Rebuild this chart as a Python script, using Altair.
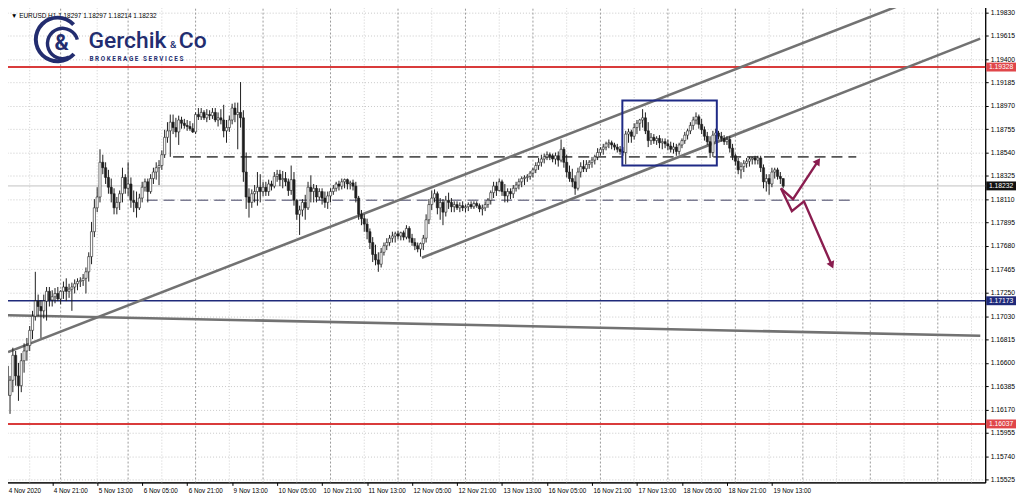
import json
import altair as alt
import pandas as pd

# ---------------- data ----------------
first_open = 1.1657
closes = [
1.1630,1.1644,1.1667,1.1648,1.1639,1.1662,1.1671,1.1676,1.1690,1.1703,
1.1717,1.1712,1.1708,1.1717,1.1726,1.1718,1.1721,1.1724,1.1719,1.1726,
1.1730,1.1726,1.1728,1.1730,1.1733,1.1735,1.1736,1.1738,1.1744,1.1758,
1.1781,1.1803,1.1813,1.1845,1.1840,1.1831,1.1822,1.1816,1.1803,1.1808,
1.1816,1.1831,1.1821,1.1825,1.1810,1.1808,1.1803,1.1812,1.1822,1.1827,
1.1818,1.1830,1.1836,1.1840,1.1842,1.1852,1.1868,1.1874,1.1882,1.1877,
1.1873,1.1884,1.1881,1.1879,1.1878,1.1876,1.1873,1.1889,1.1887,1.1891,
1.1886,1.1889,1.1888,1.1891,1.1884,1.1886,1.1884,1.1874,1.1877,1.1884,
1.1895,1.1889,1.1891,1.1886,1.1836,1.1813,1.1808,1.1816,1.1818,1.1822,
1.1818,1.1822,1.1818,1.1825,1.1823,1.1832,1.1834,1.1829,1.1830,1.1827,
1.1819,1.1829,1.1810,1.1797,1.1801,1.1808,1.1803,1.1822,1.1818,1.1821,
1.1813,1.1818,1.1812,1.1808,1.1814,1.1818,1.1821,1.1825,1.1823,1.1827,
1.1829,1.1825,1.1826,1.1823,1.1812,1.1797,1.1793,1.1788,1.1781,1.1771,
1.1760,1.1755,1.1751,1.1762,1.1768,1.1771,1.1775,1.1777,1.1779,1.1777,
1.1780,1.1776,1.1784,1.1775,1.1771,1.1768,1.1765,1.1770,1.1775,1.1792,
1.1806,1.1812,1.1816,1.1803,1.1808,1.1799,1.1810,1.1808,1.1804,1.1806,
1.1803,1.1805,1.1803,1.1804,1.1806,1.1804,1.1807,1.1805,1.1802,1.1803,
1.1806,1.1810,1.1817,1.1823,1.1819,1.1827,1.1818,1.1814,1.1818,1.1816,
1.1821,1.1824,1.1827,1.1830,1.1831,1.1832,1.1835,1.1838,1.1842,1.1845,
1.1848,1.1850,1.1852,1.1851,1.1848,1.1851,1.1847,1.1857,1.1845,1.1836,
1.1830,1.1827,1.1821,1.1836,1.1841,1.1839,1.1843,1.1845,1.1847,1.1850,
1.1854,1.1857,1.1859,1.1862,1.1863,1.1861,1.1859,1.1857,1.1855,1.1854,
1.1871,1.1873,1.1869,1.1877,1.1881,1.1884,1.1886,1.1874,1.1865,1.1868,
1.1865,1.1867,1.1863,1.1864,1.1862,1.1860,1.1857,1.1859,1.1855,1.1861,
1.1865,1.1870,1.1874,1.1879,1.1884,1.1887,1.1880,1.1875,1.1869,1.1864,
1.1854,1.1870,1.1872,1.1869,1.1867,1.1864,1.1866,1.1858,1.1851,1.1846,
1.1838,1.1841,1.1844,1.1846,1.1848,1.1849,1.1847,1.1849,1.1840,1.1827,
1.1830,1.1825,1.1836,1.1838,1.1832,1.1830,1.1823]
highs = [
1.1667,1.1648,1.1674,1.1671,1.1660,1.1669,1.1678,1.1683,1.1694,1.1708,
1.1744,1.1723,1.1718,1.1723,1.1730,1.1730,1.1727,1.1729,1.1730,1.1727,
1.1735,1.1738,1.1733,1.1734,1.1737,1.1738,1.1739,1.1742,1.1748,1.1762,
1.1790,1.1811,1.1822,1.1857,1.1852,1.1845,1.1838,1.1830,1.1821,1.1813,
1.1819,1.1840,1.1834,1.1845,1.1831,1.1819,1.1818,1.1816,1.1827,1.1830,
1.1830,1.1834,1.1840,1.1845,1.1847,1.1856,1.1875,1.1882,1.1889,1.1889,
1.1886,1.1888,1.1887,1.1885,1.1884,1.1883,1.1881,1.1891,1.1895,1.1895,
1.1893,1.1894,1.1893,1.1895,1.1895,1.1891,1.1894,1.1898,1.1884,1.1888,
1.1899,1.1900,1.1900,1.1919,1.1893,1.1854,1.1821,1.1820,1.1824,1.1836,
1.1834,1.1827,1.1827,1.1829,1.1828,1.1836,1.1838,1.1838,1.1837,1.1836,
1.1830,1.1842,1.1836,1.1811,1.1805,1.1811,1.1815,1.1827,1.1833,1.1825,
1.1824,1.1821,1.1821,1.1818,1.1818,1.1821,1.1824,1.1827,1.1828,1.1830,
1.1830,1.1830,1.1828,1.1829,1.1827,1.1814,1.1801,1.1797,1.1793,1.1784,
1.1776,1.1769,1.1762,1.1766,1.1771,1.1775,1.1778,1.1781,1.1781,1.1782,
1.1781,1.1782,1.1787,1.1786,1.1779,1.1775,1.1771,1.1771,1.1778,1.1797,
1.1811,1.1819,1.1820,1.1818,1.1812,1.1811,1.1814,1.1817,1.1812,1.1809,
1.1809,1.1808,1.1809,1.1806,1.1808,1.1809,1.1809,1.1809,1.1807,1.1806,
1.1809,1.1812,1.1819,1.1827,1.1827,1.1830,1.1829,1.1825,1.1821,1.1821,
1.1824,1.1827,1.1830,1.1832,1.1833,1.1834,1.1837,1.1840,1.1845,1.1849,
1.1852,1.1853,1.1855,1.1854,1.1853,1.1854,1.1855,1.1866,1.1859,1.1852,
1.1842,1.1839,1.1833,1.1840,1.1845,1.1847,1.1847,1.1847,1.1850,1.1852,
1.1858,1.1859,1.1862,1.1864,1.1866,1.1865,1.1863,1.1862,1.1860,1.1859,
1.1874,1.1876,1.1875,1.1881,1.1884,1.1885,1.1894,1.1891,1.1882,1.1872,
1.1871,1.1869,1.1870,1.1867,1.1867,1.1866,1.1864,1.1863,1.1862,1.1863,
1.1867,1.1873,1.1876,1.1882,1.1887,1.1891,1.1889,1.1885,1.1878,1.1873,
1.1869,1.1874,1.1876,1.1874,1.1873,1.1870,1.1869,1.1869,1.1862,1.1853,
1.1849,1.1845,1.1847,1.1849,1.1850,1.1850,1.1851,1.1851,1.1851,1.1843,
1.1834,1.1834,1.1840,1.1840,1.1840,1.1836,1.1830]
lows = [
1.1621,1.1613,1.1633,1.1639,1.1625,1.1633,1.1651,1.1662,1.1671,1.1682,
1.1699,1.1703,1.1683,1.1701,1.1699,1.1712,1.1712,1.1715,1.1717,1.1714,
1.1719,1.1717,1.1720,1.1708,1.1724,1.1727,1.1730,1.1731,1.1724,1.1735,
1.1751,1.1776,1.1799,1.1808,1.1834,1.1825,1.1816,1.1808,1.1797,1.1797,
1.1801,1.1808,1.1816,1.1814,1.1803,1.1799,1.1794,1.1801,1.1808,1.1818,
1.1808,1.1816,1.1825,1.1829,1.1824,1.1838,1.1849,1.1863,1.1850,1.1871,
1.1868,1.1861,1.1876,1.1876,1.1874,1.1874,1.1872,1.1871,1.1884,1.1884,
1.1884,1.1882,1.1884,1.1885,1.1882,1.1878,1.1880,1.1868,1.1863,1.1873,
1.1880,1.1882,1.1857,1.1877,1.1827,1.1802,1.1794,1.1803,1.1808,1.1805,
1.1808,1.1814,1.1814,1.1814,1.1819,1.1821,1.1827,1.1823,1.1821,1.1823,
1.1814,1.1815,1.1805,1.1792,1.1778,1.1795,1.1792,1.1801,1.1808,1.1808,
1.1808,1.1810,1.1806,1.1803,1.1802,1.1808,1.1815,1.1818,1.1819,1.1820,
1.1821,1.1820,1.1820,1.1819,1.1808,1.1792,1.1787,1.1781,1.1774,1.1765,
1.1753,1.1750,1.1744,1.1748,1.1759,1.1764,1.1768,1.1771,1.1771,1.1774,
1.1773,1.1773,1.1774,1.1771,1.1768,1.1764,1.1762,1.1758,1.1764,1.1771,
1.1788,1.1801,1.1808,1.1797,1.1792,1.1787,1.1795,1.1802,1.1799,1.1799,
1.1801,1.1799,1.1800,1.1799,1.1800,1.1802,1.1802,1.1803,1.1799,1.1796,
1.1800,1.1803,1.1806,1.1812,1.1814,1.1818,1.1814,1.1808,1.1808,1.1811,
1.1812,1.1818,1.1820,1.1822,1.1824,1.1827,1.1829,1.1831,1.1835,1.1838,
1.1841,1.1844,1.1847,1.1847,1.1845,1.1843,1.1841,1.1845,1.1840,1.1831,
1.1827,1.1822,1.1815,1.1819,1.1831,1.1836,1.1836,1.1839,1.1840,1.1843,
1.1847,1.1851,1.1852,1.1856,1.1858,1.1857,1.1856,1.1854,1.1852,1.1851,
1.1843,1.1863,1.1863,1.1866,1.1871,1.1874,1.1877,1.1871,1.1859,1.1861,
1.1862,1.1861,1.1858,1.1857,1.1858,1.1856,1.1854,1.1853,1.1851,1.1852,
1.1858,1.1862,1.1866,1.1871,1.1875,1.1880,1.1876,1.1871,1.1865,1.1861,
1.1849,1.1850,1.1864,1.1866,1.1864,1.1861,1.1861,1.1854,1.1847,1.1842,
1.1834,1.1830,1.1836,1.1840,1.1841,1.1843,1.1843,1.1843,1.1836,1.1821,
1.1818,1.1815,1.1822,1.1830,1.1829,1.1825,1.1821]

x_labels = ["4 Nov 2020", "4 Nov 21:00", "5 Nov 13:00", "6 Nov 05:00", "6 Nov 21:00",
            "9 Nov 13:00", "10 Nov 05:00", "10 Nov 21:00", "11 Nov 13:00", "12 Nov 05:00",
            "12 Nov 21:00", "13 Nov 13:00", "16 Nov 05:00", "16 Nov 21:00", "17 Nov 13:00",
            "18 Nov 05:00", "18 Nov 21:00", "19 Nov 13:00"]
x_label_bars = [0, 16, 32, 48, 64, 80, 96, 112, 128, 144, 160, 176, 192, 208, 224, 240, 256, 272]
price_ticks = [1.19830, 1.19615, 1.19400, 1.19185, 1.18970, 1.18755, 1.18540, 1.18325,
               1.18110, 1.17895, 1.17680, 1.17465, 1.17250, 1.17030, 1.16815, 1.16600,
               1.16385, 1.16170, 1.15955, 1.15740, 1.15525]
day_sep_bars = [19, 43, 67, 91, 115, 139, 163, 187, 211, 235, 259, 283, 307, 331]
half_day_bars = [8, 32, 55, 79, 103, 127, 151, 175, 199, 223, 247, 271, 295, 319, 343]

red_levels = [1.19328, 1.16037]
blue_levels = [1.17173]
current_price = [1.18232]

trend_x1 = [0.28, 147.5, 0.28]
trend_y1 = [1.1670, 1.1757, 1.1704]
trend_x2 = [317.8, 346.1, 346.1]
trend_y2 = [1.1990, 1.1959, 1.1685]

dash_y = [1.1850, 1.1810]
dash_x1 = [59.0, 49.6]
dash_x2 = [302.0, 300.2]
dash_col = ["#555555", "#7c7c92"]

box_x = [218.8, 252.4]
box_y = [1.1842, 1.1902]

arrow_path = ["up", "up", "up", "down", "down", "down", "down"]
arrow_bar = [275.2, 279.5, 288.4, 275.2, 279.1, 283.4, 293.3]
arrow_price = [1.1821, 1.1811, 1.1846, 1.1821, 1.1800, 1.1809, 1.1750]
arrow_head_angle = [34, 156]

tag_prices = [1.19328, 1.18232, 1.17173, 1.16037]
tag_text = ["1.19328", "1.18232", "1.17173", "1.16037"]
tag_colors = ["#e0464a", "#111111", "#1f2a7a", "#e0464a"]

header = "\u25bc EURUSD,H1  1.18297 1.18297 1.18214 1.18232"
logo_sub_text = "\u00a0".join("BROKERAGE") + "\u00a0\u00a0\u00a0" + "\u00a0".join("SERVICES")

# ---------------- chart ----------------
W, H = 989, 481
XDOM = [0.28, 346.1]
YDOM = [1.15498, 1.19903]
NAVY = "#232d6f"
MAROON = "#8a1d4f"

xs = alt.Scale(domain=XDOM, nice=False, zero=False)
ys = alt.Scale(domain=YDOM, nice=False, zero=False)

lab_expr = json.dumps(x_labels) + "[indexof(" + json.dumps(x_label_bars) + ", datum.value)]"
AX = alt.Axis(
    values=x_label_bars, labelExpr=lab_expr, labelAlign="left", labelAngle=0,
    labelOffset=1, labelPadding=2, labelFontSize=6.4, labelFont="Liberation Sans",
    labelColor="#000", tickSize=3, tickColor="#000", domainColor="#000",
    labelOverlap=False, labelFlush=False, labelBound=False, grid=False, title=None)
AY = alt.Axis(
    orient="right", values=price_ticks, format=".5f", labelFontSize=6.8,
    labelFont="Liberation Sans", labelColor="#000", tickSize=3, tickColor="#000",
    domainColor="#000", labelPadding=2, grid=True, gridColor="#c9c9c9",
    gridDash=[1, 2], labelOverlap=False, labelFlush=False, labelBound=False, title=None)


def X(f):
    return alt.X(f, type="quantitative", scale=xs, axis=AX)


def Y(f):
    return alt.Y(f, type="quantitative", scale=ys, axis=AY)


n = len(closes)
opens = [first_open] + closes[:-1]
cdf = pd.DataFrame({"bar": list(range(n)), "open": opens, "high": highs,
                    "low": lows, "close": closes})

axes = alt.Chart(cdf).mark_point(opacity=0).encode(x=X("bar"), y=Y("close"))

vdf_day = pd.DataFrame({"bar": day_sep_bars})
vdf_half = pd.DataFrame({"bar": half_day_bars})
vgrid_day = alt.Chart(vdf_day).mark_rule(color="#9a9a9a", strokeDash=[2, 2], strokeWidth=1).encode(x=X("bar"))
vgrid_half = alt.Chart(vdf_half).mark_rule(color="#cfcfcf", strokeDash=[1, 2], strokeWidth=1).encode(x=X("bar"))

cur_line = alt.Chart(pd.DataFrame({"p": current_price})).mark_rule(color="#c2c2c2", strokeWidth=1).encode(y=Y("p"))

tdf = pd.DataFrame({"x1": trend_x1, "y1": trend_y1, "x2": trend_x2, "y2": trend_y2})
trends = alt.Chart(tdf).mark_rule(color="#727272", strokeWidth=2.6, clip=True).encode(
    x=X("x1"), y=Y("y1"), x2="x2:Q", y2="y2:Q")

ddf = pd.DataFrame({"y": dash_y, "x1": dash_x1, "x2": dash_x2, "c": dash_col})
dashes = alt.Chart(ddf).mark_rule(strokeWidth=1.6, strokeDash=[11, 6]).encode(
    x=X("x1"), x2="x2:Q", y=Y("y"), color=alt.Color("c:N", scale=None))

red = alt.Chart(pd.DataFrame({"p": red_levels})).mark_rule(color="#d93b3b", strokeWidth=2).encode(y=Y("p"))
blue = alt.Chart(pd.DataFrame({"p": blue_levels})).mark_rule(color="#1f2a7a", strokeWidth=1.6).encode(y=Y("p"))

wicks = alt.Chart(cdf).mark_rule(color="#1e1e1e", strokeWidth=1).encode(x=X("bar"), y=Y("low"), y2="high:Q")
bodies = alt.Chart(cdf).mark_bar(size=2.2, stroke="#1e1e1e", strokeWidth=0.6).encode(
    x=X("bar"), y=Y("open"), y2="close:Q",
    fill=alt.condition("datum.close >= datum.open", alt.value("#ffffff"), alt.value("#1e1e1e")))

bdf = pd.DataFrame({"x1": [box_x[0]], "x2": [box_x[1]], "y1": [box_y[0]], "y2": [box_y[1]]})
box = alt.Chart(bdf).mark_rect(fill=None, stroke="#1f2a86", strokeWidth=2).encode(
    x=X("x1"), x2="x2:Q", y=Y("y1"), y2="y2:Q")

adf = pd.DataFrame({"path": arrow_path, "ord": list(range(len(arrow_bar))),
                    "bar": arrow_bar, "p": arrow_price})
arrows = alt.Chart(adf).mark_line(color=MAROON, strokeWidth=2.4).encode(
    x=X("bar"), y=Y("p"), detail="path:N", order="ord:Q")
hdf = pd.DataFrame({"bar": [arrow_bar[2], arrow_bar[6]], "p": [arrow_price[2], arrow_price[6]],
                    "ang": arrow_head_angle})
heads = alt.Chart(hdf).mark_point(shape="triangle-up", filled=True, color=MAROON, size=70, opacity=1).encode(
    x=X("bar"), y=Y("p"), angle=alt.Angle("ang:Q", scale=None))

tagdf = pd.DataFrame({"p": tag_prices, "t": tag_text, "c": tag_colors})
tags = alt.Chart(tagdf).mark_rect().encode(
    x=alt.value(W + 1), x2=alt.value(W + 31), y=Y("lo"), y2="hi:Q",
    color=alt.Color("c:N", scale=None)).transform_calculate(lo="datum.p - 0.00041", hi="datum.p + 0.00041")
tag_txt = alt.Chart(tagdf).mark_text(color="#ffffff", fontSize=6.8, font="Liberation Sans",
                                     align="center", baseline="middle").encode(
    x=alt.value(W + 16), y=Y("p"), text="t:N")

hdr = alt.Chart(pd.DataFrame({"t": [header]})).mark_text(
    align="left", baseline="alphabetic", fontSize=6.5, font="Liberation Sans", color="#000").encode(
    x=alt.value(8), y=alt.value(13), text="t:N")

# logo
logo_outer = alt.Chart(pd.DataFrame({"a": [0]})).mark_arc(
    radius=24, radius2=20, theta=2.3, theta2=7.1, color=NAVY).encode(x=alt.value(55), y=alt.value(35))
logo_inner = alt.Chart(pd.DataFrame({"a": [0]})).mark_arc(
    radius=17, radius2=13.5, theta=2.7, theta2=7.6, color=NAVY).encode(x=alt.value(60), y=alt.value(39))
logo_amp = alt.Chart(pd.DataFrame({"t": ["&"]})).mark_text(
    fontSize=22, font="Roboto", fontWeight="bold", color=NAVY, align="center", baseline="middle").encode(
    x=alt.value(59), y=alt.value(39), text="t:N")
logo_name = alt.Chart(pd.DataFrame({"t": ["Gerchik"]})).mark_text(
    fontSize=23, font="Roboto", fontWeight=500, color=NAVY, align="left", baseline="alphabetic").encode(
    x=alt.value(86), y=alt.value(44), text="t:N")
logo_and = alt.Chart(pd.DataFrame({"t": ["&"]})).mark_text(
    fontSize=10, font="Roboto", fontWeight=500, color=NAVY, align="left", baseline="alphabetic").encode(
    x=alt.value(168), y=alt.value(44), text="t:N")
logo_co = alt.Chart(pd.DataFrame({"t": ["Co"]})).mark_text(
    fontSize=23, font="Roboto", fontWeight=500, color=NAVY, align="left", baseline="alphabetic").encode(
    x=alt.value(177), y=alt.value(44), text="t:N")
logo_sub = alt.Chart(pd.DataFrame({"t": [logo_sub_text]})).mark_text(
    fontSize=6.4, font="Roboto", fontWeight="bold", color=NAVY, align="left", baseline="alphabetic").encode(
    x=alt.value(87), y=alt.value(57), text="t:N")

chart = alt.layer(
    axes, vgrid_half, vgrid_day, cur_line, dashes, red, blue, trends,
    wicks, bodies, box, arrows, heads, tags, tag_txt, hdr,
    logo_outer, logo_inner, logo_amp, logo_name, logo_and, logo_co, logo_sub,
).properties(
    width=W, height=H,
    padding={"left": -6, "top": -6, "right": 0, "bottom": 0},
).configure_view(stroke="#000", strokeWidth=1)

chart.save("out.html", embed_options={"renderer": "svg", "actions": False})
